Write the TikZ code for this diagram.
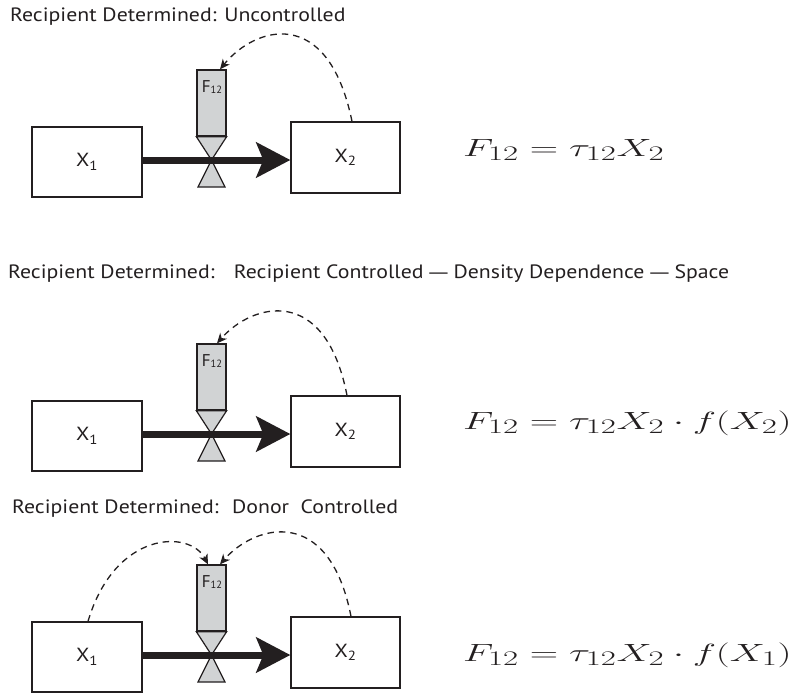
\documentclass[tikz,border=0pt]{standalone}
\usepackage[no-math]{fontspec}
\usepackage{graphicx}
\setmainfont{PT Sans}
\newfontfamily\widesans[FakeStretch=1.13,Ligatures=TeX]{PT Sans}
\newfontfamily\dashfont[FakeStretch=0.95]{Liberation Sans}
\usetikzlibrary{arrows.meta}
\definecolor{ink}{HTML}{231F20}
\definecolor{valvegray}{HTML}{D1D3D4}
\tikzset{
  stockbox/.style={draw=ink, line width=1.3pt, fill=white, inner sep=0pt, font=\widesans\fontsize{19}{22}\selectfont, text=ink},
  valvebox/.style={draw=ink, line width=1.3pt, fill=valvegray, minimum width=29pt, minimum height=66pt, inner sep=0pt},
  bowtie/.style={draw=ink, line width=1.2pt, fill=valvegray, line join=miter},
  flowarrow/.style={draw=ink, line width=7pt, -{Stealth[length=34pt,width=35pt,inset=7pt]}},
  ctrlarrow/.style={draw=ink, line width=1.3pt, dash pattern=on 6.5pt off 5pt, -{Stealth[length=10pt,width=9pt,inset=3pt]}},
  titletext/.style={anchor=base west, inner sep=0pt, text=ink, font=\widesans\fontsize{19.3}{22}\selectfont},
  eqtext/.style={anchor=base west, inner sep=0pt, text=ink, font=\fontsize{32}{38}\selectfont},
  flabel/.style={inner sep=0pt, text=ink, font=\fontsize{17}{18}\selectfont}
}
\newcommand{\wideeq}[1]{\scalebox{1.58}[1]{$#1$}}
\newcommand{\emd}{{\dashfont —}}
\newcommand{\flowpanel}[2]{%
  \begin{scope}[yshift=-#1pt]
    \node[stockbox, minimum width=110pt, minimum height=70pt] (#2a) at (87,2) {X\textsubscript{1}};
    \node[stockbox, minimum width=109pt, minimum height=71pt] (#2b) at (345.5,-2.5) {X\textsubscript{2}};
    \node[valvebox] (#2v) at (211.5,-57) {};
    \draw[ink, line width=2.6pt] (#2v.south west) -- (#2v.south east);
    \node[flabel] (#2f) at (212,-73) {F{\fontsize{10.5}{12}\selectfont\raisebox{-0.35ex}{12}}};
    \coordinate (#2c) at (211.5,0);
    \draw[bowtie] (#2v.south west) -- (#2v.south east) -- (#2c) -- cycle;
    \draw[bowtie] (#2c) -- ++(13.5,27) -- ++(-27,0) -- cycle;
    \draw[flowarrow] (#2a.east |- #2c) -- (#2b.west |- #2c);
  \end{scope}}
\begin{document}
\begin{tikzpicture}[x=1pt,y=-1pt]
  \useasboundingbox (0,0) rectangle (797,693);
  % panel 1
  \node[titletext] (t1) at (10,22) {Recipient Determined: Uncontrolled};
  \flowpanel{160}{p}
  \draw[ctrlarrow] ([xshift=6.5pt]pb.north) .. controls +(-24,-117) and +(35,-43) .. ([xshift=8.5pt]pv.north);
  \node[eqtext] (e1) at (463,156) {\wideeq{F_{12} = \tau_{12}X_2}};
  % panel 2
  \node[titletext] (t2) at (8,278) {Recipient Determined:\hspace{0.6em} Recipient Controlled \emd{} Density Dependence \emd{} Space};
  \flowpanel{434}{q}
  \draw[ctrlarrow] ([xshift=1.5pt]qb.north) .. controls +(-22,-112) and +(35,-40) .. ([xshift=5.5pt]qv.north);
  \node[eqtext] (e2) at (463,429) {\wideeq{F_{12} = \tau_{12}X_2\cdot f(X_2)}};
  % panel 3
  \node[titletext] (t3) at (12,513) {Recipient Determined:\hspace{0.3em} Donor\hspace{0.3em} Controlled};
  \flowpanel{655}{r}
  \draw[ctrlarrow] ([xshift=5.5pt]rb.north) .. controls +(-22,-112) and +(35,-40) .. ([xshift=8.5pt]rv.north);
  \draw[ctrlarrow] ([xshift=1pt]ra.north) .. controls +(27,-91) and +(-18,-35) .. ([xshift=-3.5pt]rv.north);
  \node[eqtext] (e3) at (463,661) {\wideeq{F_{12} = \tau_{12}X_2\cdot f(X_1)}};
\end{tikzpicture}
\end{document}
